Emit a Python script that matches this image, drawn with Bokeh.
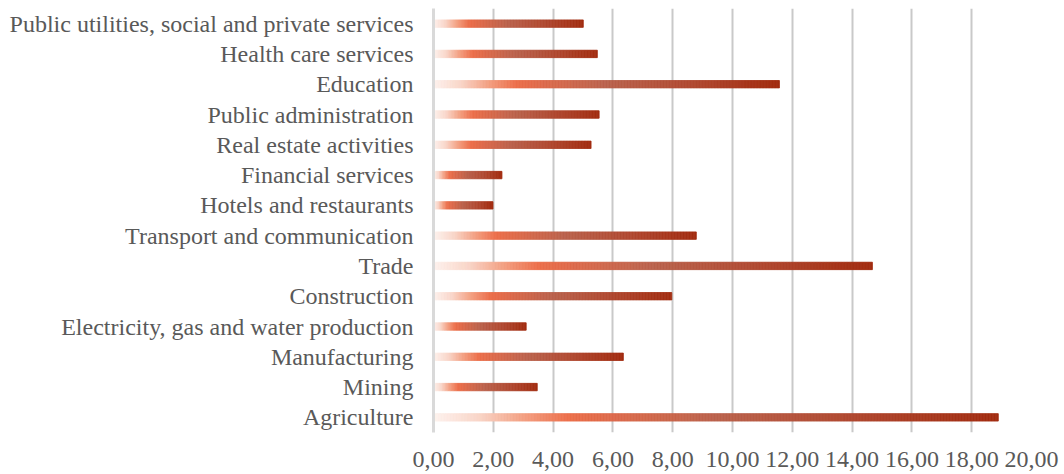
import numpy as np
from bokeh.plotting import figure
from bokeh.models import Range1d, FactorRange, FixedTicker, ColumnDataSource
from bokeh.embed import file_html
from bokeh.resources import INLINE

# ---- data ----
categories = [
    "Agriculture",
    "Mining",
    "Manufacturing",
    "Electricity, gas and water production",
    "Construction",
    "Trade",
    "Transport and communication",
    "Hotels and restaurants",
    "Financial services",
    "Real estate activities",
    "Public administration",
    "Education",
    "Health care services",
    "Public utilities, social and private services",
]
values = [18.89, 3.47, 6.35, 3.10, 7.97, 14.68, 8.79, 1.99, 2.29, 5.27, 5.54, 11.57, 5.48, 5.01]
tick_values = [0, 2, 4, 6, 8, 10, 12, 14, 16, 18, 20]
tick_labels = ["0,00", "2,00", "4,00", "6,00", "8,00", "10,00", "12,00", "14,00", "16,00", "18,00", "20,00"]

# ---- gradient styling (relative position along each bar) ----
stop_pos = [0.0, 0.08, 0.16, 0.24, 0.50, 0.75, 1.0]
stop_rgb = [(253, 243, 239), (249, 214, 201), (243, 160, 130), (236, 110, 74),
            (186, 98, 76), (176, 72, 48), (162, 44, 16)]

def grad_color(t):
    r = np.interp(t, stop_pos, [c[0] for c in stop_rgb])
    g = np.interp(t, stop_pos, [c[1] for c in stop_rgb])
    b = np.interp(t, stop_pos, [c[2] for c in stop_rgb])
    return "#%02x%02x%02x" % (int(round(r)), int(round(g)), int(round(b)))

ys, lefts, rights, colors = [], [], [], []
for cat, v in zip(categories, values):
    n = max(20, int(v * 20))
    for k in range(n):
        ys.append(cat)
        lefts.append(v * k / n)
        rights.append(v * (k + 1) / n)
        colors.append(grad_color((k + 0.5) / n))
src = ColumnDataSource(dict(y=ys, left=lefts, right=rights, color=colors))

FONT = "Liberation Serif"
TXT = "#595959"

p = figure(
    width=1064, height=474,
    x_range=Range1d(0, 20),
    y_range=FactorRange(factors=categories, range_padding=0),
    output_backend="svg", toolbar_location=None,
    min_border_left=433, min_border_right=33, min_border_top=8, min_border_bottom=42,
)
p.outline_line_color = None
p.background_fill_color = "white"
p.border_fill_color = "white"

p.hbar(y="y", left="left", right="right", height=0.245, fill_color="color",
       line_color="color", line_width=0.8, source=src)

# grid
p.ygrid.grid_line_color = None
p.xgrid.ticker = FixedTicker(ticks=tick_values)
p.xgrid.grid_line_color = "#c9c9c9"
p.xgrid.grid_line_width = 2

# x axis
p.xaxis.ticker = FixedTicker(ticks=tick_values)
p.xaxis.major_label_overrides = {t: l for t, l in zip(tick_values, tick_labels)}
p.xaxis.axis_line_color = None
p.xaxis.major_tick_line_color = None
p.xaxis.minor_tick_line_color = None
p.xaxis.major_tick_out = 0
p.xaxis.major_tick_in = 0
p.xaxis.major_label_standoff = 19
p.xaxis.major_label_text_font = FONT
p.xaxis.major_label_text_font_size = "24px"
p.xaxis.major_label_text_color = TXT

# y axis
p.yaxis.axis_line_color = "#d9d9d9"
p.yaxis.axis_line_width = 3
p.yaxis.major_tick_line_color = None
p.yaxis.minor_tick_line_color = None
p.yaxis.major_tick_out = 0
p.yaxis.major_tick_in = 0
p.yaxis.major_label_standoff = 20
p.yaxis.major_label_text_font = FONT
p.yaxis.major_label_text_font_size = "24px"
p.yaxis.major_label_text_color = TXT

open("out.html", "w").write(file_html(p, INLINE))
